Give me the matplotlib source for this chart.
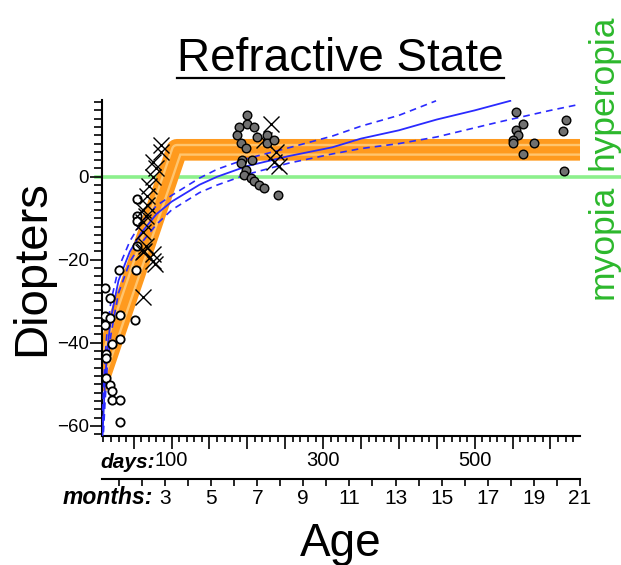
import numpy as np
import matplotlib.pyplot as plt
from matplotlib.lines import Line2D

plt.rcParams['font.family'] = ['Liberation Sans', 'DejaVu Sans']

# ---- data (age in days, refraction in diopters) ----
circ_day = [31, 12, 19, 53, 32, 12, 19, 12, 52, 32, 21, 13, 13, 13, 19, 22, 21, 32, 32,
            54, 54, 54, 54]
circ_d = [-22.4, -26.7, -29.1, -22.4, -33.3, -33.6, -34.0, -35.6, -34.4, -39.0, -40.4,
          -42.8, -43.6, -48.6, -50.2, -51.7, -53.7, -53.7, -59.2,
          -5.3, -9.4, -10.6, -16.6]

x_day = [86, 86, 75, 80, 75, 70, 68, 68, 62, 66, 62, 62, 66, 62, 75, 64, 75, 78, 62,
         231, 222, 235, 242, 238]
x_d = [7.6, 6.0, 3.6, 2.1, 0.0, -2.3, -4.7, -6.7, -7.9, -9.4, -11.0, -13.4, -16.6, -18.1,
       -20.2, -17.8, -18.6, -21.0, -28.9,
       12.8, 8.8, 3.6, 2.5, 6.0]

dot_day = [200, 200, 189, 209, 186, 213, 191, 198, 226, 226, 235, 193, 191, 198, 196, 205,
           209, 216, 222, 241, 206,
           555, 564, 555, 557, 550, 550, 578, 564, 621, 617, 618]
dot_d = [14.8, 12.8, 12.0, 12.0, 10.0, 9.6, 8.1, 6.9, 10.0, 8.1, 8.8, 4.0, 3.3, 1.7, 0.5,
         -0.3, -1.1, -1.9, -2.6, -4.3, 4.0,
         15.5, 12.8, 11.2, 10.0, 8.8, 8.2, 8.2, 5.6, 13.7, 11.0, 1.3]

# emmetropization model (orange band): knee points
band_day = [0, 107, 639]
band_d = [-51.0, 6.5, 6.5]

# regression fit and confidence limits (blue)
fit_day = [8, 10, 12, 15, 20, 30, 45, 60, 80, 100, 137, 160, 200, 255, 312, 350, 400, 450, 500, 547]
fit_d = [-66, -58, -50, -42, -34, -25, -18, -13.5, -9, -6, -1.9, 0, 2.6, 5.0, 7.1, 9.2, 11.2, 13.8, 16.0, 18.3]
up_day = [8, 10, 12, 15, 20, 30, 45, 60, 80, 100, 137, 160, 200, 255, 312, 350, 400, 449]
up_d = [-62, -52, -44, -37, -30, -22, -15.5, -11, -7, -4.5, -0.3, 1.8, 4.4, 7.0, 9.8, 12.2, 14.8, 18.3]
lo_day = [8, 10, 12, 15, 20, 30, 45, 60, 80, 100, 137, 160, 200, 255, 312, 350, 400, 450, 532, 600, 637]
lo_d = [-70, -62, -55, -46, -38, -28, -20.5, -16, -11.5, -8, -3.8, -2, 0.6, 3.3, 5.5, 6.8, 8.0, 9.6, 13.2, 16.0, 17.4]

month_ticks = list(range(1, 22))
day_labels = [100, 300, 500]

fig = plt.figure(figsize=(6.21, 5.65), dpi=100)
ax = fig.add_axes([0.164, 0.228, 0.770, 0.595])

# orange band (thick line with two light stripes)
for lw, col in [(15.6, '#ff9a1e'), (8.6, '#ffc56e'), (5.2, '#ff9a1e')]:
    ax.plot(band_day, band_d, color=col, lw=lw, solid_joinstyle='round',
            solid_capstyle='butt', zorder=2)

# green emmetropia line, runs out past the axes to the labels
ax.plot([0, 720], [0, 0], color='#8cf08c', lw=2.6, clip_on=False, zorder=1)

ax.plot(fit_day, fit_d, color='#2a2aff', lw=1.3, zorder=3)
ax.plot(up_day, up_d, color='#2a2aff', lw=1.2, ls=(0, (4, 3)), zorder=3)
ax.plot(lo_day, lo_d, color='#2a2aff', lw=1.2, ls=(0, (4, 3)), zorder=3)

ax.plot(circ_day, circ_d, 'o', ms=6, mfc='white', mec='black', mew=1.3, zorder=4)
ax.plot(x_day, x_d, 'x', ms=11, color='black', mew=1.0, zorder=5)
ax.plot(dot_day, dot_d, 'o', ms=6.2, mfc='#707070', mec='black', mew=1.0, zorder=6)

ax.set_xlim(8, 639)
ax.set_ylim(-62.5, 18.5)
ax.spines['top'].set_visible(False)
ax.spines['right'].set_visible(False)
ax.spines['left'].set_linewidth(1.5)
ax.spines['bottom'].set_linewidth(1.5)

ax.set_yticks([0, -20, -40, -60])
ax.set_yticks(np.arange(-62, 19, 2), minor=True)
ax.tick_params(axis='y', which='major', length=8.5, width=1.2, labelsize=13.5, pad=1)
ax.tick_params(axis='y', which='minor', length=5.5, width=1.2)

ax.set_xticks(np.arange(50, 640, 50))
ax.set_xticklabels([str(d) if d in day_labels else '' for d in np.arange(50, 640, 50)])
ax.set_xticks(np.arange(10, 640, 10), minor=True)
ax.tick_params(axis='x', which='major', length=9, width=1.2, labelsize=14.5, pad=2)
ax.tick_params(axis='x', which='minor', length=4.5, width=1.2)

ax.set_ylabel('Diopters', fontsize=34, labelpad=2)

# months axis underneath
ax2 = fig.add_axes([0.164, 0.152, 0.770, 0.001])
ax2.set_xlim(8 / 30.44, 639 / 30.44)
ax2.patch.set_visible(False)
for s in ['top', 'left', 'right']:
    ax2.spines[s].set_visible(False)
ax2.spines['bottom'].set_linewidth(1.5)
ax2.set_yticks([])
ax2.set_xticks(month_ticks)
ax2.set_xticklabels([str(m) if (m % 2 == 1 and m >= 3) else '' for m in month_ticks])
ax2.tick_params(axis='x', length=5, width=1.2, labelsize=15, pad=2)
ax2.set_xlabel('Age', fontsize=33, labelpad=10)

fig.text(0.249, 0.182, 'days:', fontsize=15, fontweight='bold', fontstyle='italic',
         ha='right', va='center')
fig.text(0.246, 0.120, 'months:', fontsize=16.5, fontweight='bold', fontstyle='italic',
         ha='right', va='center')

# side labels
green = '#2cb82c'
ax.text(1.0 + 23 / 478, 1.0 - 77 / 336 + 7 / 336, 'hyperopia', transform=ax.transAxes,
        rotation=90, color=green, fontsize=25.5, ha='center', va='bottom')
ax.text(1.0 + 23 / 478, 1.0 - 77 / 336 - 8 / 336, 'myopia', transform=ax.transAxes,
        rotation=90, color=green, fontsize=25.5, ha='center', va='top')

title = fig.text(0.548, 0.895, 'Refractive State', fontsize=33, ha='center', va='center')
fig.canvas.draw()
bb = title.get_window_extent().transformed(fig.transFigure.inverted())
fig.add_artist(Line2D([bb.x0, bb.x1], [bb.y0 + 0.005, bb.y0 + 0.005], color='black', lw=1.6))

fig.savefig('out.png', dpi=100)
